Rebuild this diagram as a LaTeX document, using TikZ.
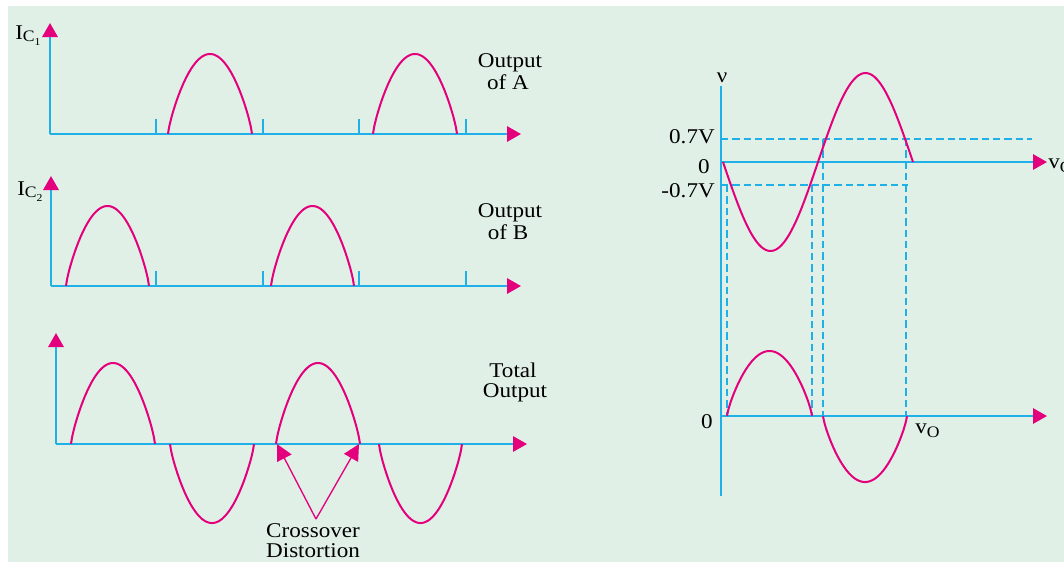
\documentclass[tikz,border=0pt]{standalone}
\usepackage{fontspec}
\setmainfont{Liberation Serif}[FakeStretch=1.1]
\usetikzlibrary{arrows.meta}
\definecolor{bgc}{RGB}{225,240,230}
\definecolor{wavec}{RGB}{228,0,124}
\definecolor{axisc}{RGB}{30,176,230}
\tikzset{
  axisline/.style={draw=axisc, line width=1.5pt},
  axisarrow/.style={axisline, -{Triangle[length=10.5pt,width=11.5pt,color=wavec]}},
  tickline/.style={draw=axisc, line width=1.3pt},
  wavecurve/.style={draw=wavec, line width=1.5pt},
  guide/.style={draw=axisc, line width=1.1pt, dash pattern=on 5.5pt off 3pt},
  pointer/.style={draw=wavec, line width=1pt, -{Triangle[length=12pt,width=12pt,color=wavec]}},
  lbl/.style={inner sep=0pt, font=\fontsize{15.75}{18}\selectfont}
}
\newcommand\hump[4]{\draw[wavecurve] plot[domain=15.7:164.3,samples=70,smooth] ({#1+(#2-#1)/148.6*(\x-15.7)},{#3+#4*pow(max((sin(\x)-0.27)/0.73,0.0001),0.8)});}
\begin{document}
\begin{tikzpicture}[x=0.75pt,y=-0.75pt]
\useasboundingbox (0,0) rectangle (1064,562);
\fill[bgc] (8,6) rectangle (1064,562);

% ---------- Panel A ----------
\coordinate (oA) at (50,134);
\coordinate (yA) at (50,23);
\coordinate (xA) at (521,134);
\draw[axisarrow] (oA) -- (yA);
\draw[axisarrow] (oA) -- (xA);
\foreach \t in {156,263,359,466} \draw[tickline] (\t,134) -- ++(0,-15);
\hump{168}{252}{134}{-80}
\hump{373}{457}{134}{-80}
\node[lbl, anchor=base west] (ic1) at (15,39) {I\raisebox{-1.5pt}{\fontsize{12}{12}\selectfont C}\raisebox{-5pt}{\fontsize{8}{8}\selectfont 1}};
\node[lbl, anchor=base] (outA1) at (510,67) {Output};
\node[lbl, anchor=base] (outA2) at (508,89) {of A};

% ---------- Panel B ----------
\coordinate (oB) at (51,286);
\coordinate (yB) at (51,176);
\coordinate (xB) at (521,286);
\draw[axisarrow] (oB) -- (yB);
\draw[axisarrow] (oB) -- (xB);
\foreach \t in {156,263,359,466} \draw[tickline] (\t,286) -- ++(0,-15);
\hump{66}{149}{286}{-80}
\hump{271}{354}{286}{-80}
\node[lbl, anchor=base west] (ic2) at (17,195) {I\raisebox{-1.5pt}{\fontsize{12}{12}\selectfont C}\raisebox{-5pt}{\fontsize{8}{8}\selectfont 2}};
\node[lbl, anchor=base] (outB1) at (510,217) {Output};
\node[lbl, anchor=base] (outB2) at (508,239) {of B};

% ---------- Total ----------
\coordinate (oT) at (56,444);
\coordinate (yT) at (56,333);
\coordinate (xT) at (527,444);
\draw[axisarrow] (oT) -- (yT);
\draw[axisarrow] (oT) -- (xT);
\hump{71}{155}{444}{-81}
\hump{276}{360}{444}{-81}
\hump{170}{254}{444}{79}
\hump{379}{462}{444}{79}
\node[lbl, anchor=base] (tot1) at (513,377) {Total};
\node[lbl, anchor=base] (tot2) at (515,397) {Output};
\coordinate (apex) at (316,519);
\coordinate (cl) at (277,444);
\coordinate (cr) at (359,444);
\draw[pointer] (apex) -- (cl);
\draw[pointer] (apex) -- (cr);
\node[lbl, anchor=base] (cross1) at (313,537) {Crossover};
\node[lbl, anchor=base] (cross2) at (313,557) {Distortion};

% ---------- Right: transfer ----------
\coordinate (ytop) at (721,86);
\coordinate (ybot) at (721,496);
\coordinate (oU) at (721,162);
\coordinate (xU) at (1047,162);
\coordinate (oL) at (721,416);
\coordinate (xL) at (1047,416);
\draw[guide] (721,139) -- (1032,139);
\draw[guide] (721,185) -- (908,185);
\draw[guide] (727,185) -- (727,416);
\draw[guide] (812,185) -- (812,416);
\draw[guide] (823,139) -- (823,416);
\draw[guide] (906,139) -- (906,416);
\draw[axisline] (ytop) -- (ybot);
\draw[axisarrow] (oU) -- (xU);
\draw[axisarrow] (oL) -- (xL);
\draw[wavecurve] plot[domain=0:360,samples=90,smooth] ({723+0.527778*\x},{162+89*sin(\x)});
\hump{727}{812}{416}{-65}
\hump{823}{907}{416}{66}
\node[lbl, anchor=base] (nu) at (722,82) {ν};
\node[lbl, anchor=base east] (p07) at (715,143) {0.7V};
\node[lbl, anchor=base east] (zU) at (710,173) {0};
\node[lbl, anchor=base east] (m07) at (715,197) {-0.7V};
\node[lbl, anchor=base east] (zL) at (713,428) {0};
\node[lbl, anchor=base west] (voL) at (915,433) {v\raisebox{-3pt}{\fontsize{12}{12}\selectfont O}};
\node[lbl, anchor=base west] (voU) at (1048,168) {v\raisebox{-3pt}{\fontsize{12}{12}\selectfont O}};
\end{tikzpicture}
\end{document}
